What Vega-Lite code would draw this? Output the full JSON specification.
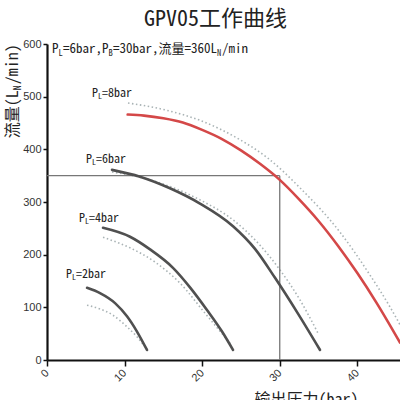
{
  "$schema": "https://vega.github.io/schema/vega-lite/v6.json",
  "width": 353,
  "height": 316,
  "autosize": {"type": "none"},
  "padding": {"left": 47, "top": 44, "right": 0, "bottom": 40},
  "background": "white",
  "title": {"text": "GPV05工作曲线", "font": "Noto Sans Mono CJK SC, Noto Sans CJK SC, DejaVu Sans Mono", "fontSize": 22, "fontWeight": "normal", "color": "#222", "anchor": "middle", "dx": -8, "offset": 7},
  "config": {"view": {"stroke": null}},
  "datasets": {
    "curves": [
      {"s": "8bar", "k": "fit", "x": 10.4, "y": 466},
      {"s": "8bar", "k": "fit", "x": 12.5, "y": 464},
      {"s": "8bar", "k": "fit", "x": 15, "y": 459},
      {"s": "8bar", "k": "fit", "x": 17.5, "y": 451},
      {"s": "8bar", "k": "fit", "x": 20, "y": 437},
      {"s": "8bar", "k": "fit", "x": 22.5, "y": 420},
      {"s": "8bar", "k": "fit", "x": 25, "y": 398},
      {"s": "8bar", "k": "fit", "x": 27.5, "y": 372},
      {"s": "8bar", "k": "fit", "x": 30, "y": 342},
      {"s": "8bar", "k": "fit", "x": 32.5, "y": 305},
      {"s": "8bar", "k": "fit", "x": 35, "y": 264},
      {"s": "8bar", "k": "fit", "x": 37.5, "y": 217},
      {"s": "8bar", "k": "fit", "x": 40, "y": 165},
      {"s": "8bar", "k": "fit", "x": 42.5, "y": 108},
      {"s": "8bar", "k": "fit", "x": 45.5, "y": 33},
      {"s": "8bar", "k": "test", "x": 10.44, "y": 488},
      {"s": "8bar", "k": "test", "x": 15.47, "y": 474},
      {"s": "8bar", "k": "test", "x": 19.72, "y": 455},
      {"s": "8bar", "k": "test", "x": 24.9, "y": 418},
      {"s": "8bar", "k": "test", "x": 28.4, "y": 384},
      {"s": "8bar", "k": "test", "x": 32.6, "y": 327},
      {"s": "8bar", "k": "test", "x": 37.8, "y": 242},
      {"s": "8bar", "k": "test", "x": 41.6, "y": 162},
      {"s": "8bar", "k": "test", "x": 44.2, "y": 101},
      {"s": "8bar", "k": "test", "x": 45.5, "y": 67},
      {"s": "6bar", "k": "fit", "x": 8.38, "y": 361},
      {"s": "6bar", "k": "fit", "x": 11.99, "y": 348},
      {"s": "6bar", "k": "fit", "x": 15.85, "y": 326},
      {"s": "6bar", "k": "fit", "x": 19.72, "y": 297},
      {"s": "6bar", "k": "fit", "x": 23.98, "y": 254},
      {"s": "6bar", "k": "fit", "x": 26.81, "y": 211},
      {"s": "6bar", "k": "fit", "x": 29.39, "y": 156},
      {"s": "6bar", "k": "fit", "x": 32.35, "y": 88},
      {"s": "6bar", "k": "fit", "x": 35.19, "y": 19},
      {"s": "6bar", "k": "test", "x": 8.38, "y": 357},
      {"s": "6bar", "k": "test", "x": 13.28, "y": 342},
      {"s": "6bar", "k": "test", "x": 19.72, "y": 304},
      {"s": "6bar", "k": "test", "x": 23.98, "y": 266},
      {"s": "6bar", "k": "test", "x": 27.45, "y": 218},
      {"s": "6bar", "k": "test", "x": 30.03, "y": 171},
      {"s": "6bar", "k": "test", "x": 32.61, "y": 114},
      {"s": "6bar", "k": "test", "x": 34.93, "y": 51},
      {"s": "4bar", "k": "fit", "x": 7.22, "y": 251},
      {"s": "4bar", "k": "fit", "x": 10.7, "y": 234},
      {"s": "4bar", "k": "fit", "x": 13.28, "y": 210},
      {"s": "4bar", "k": "fit", "x": 16.24, "y": 175},
      {"s": "4bar", "k": "fit", "x": 18.43, "y": 138},
      {"s": "4bar", "k": "fit", "x": 20.62, "y": 95},
      {"s": "4bar", "k": "fit", "x": 22.56, "y": 54},
      {"s": "4bar", "k": "fit", "x": 23.98, "y": 19},
      {"s": "4bar", "k": "test", "x": 7.22, "y": 233},
      {"s": "4bar", "k": "test", "x": 10.7, "y": 213},
      {"s": "4bar", "k": "test", "x": 13.92, "y": 186},
      {"s": "4bar", "k": "test", "x": 17.14, "y": 146},
      {"s": "4bar", "k": "test", "x": 20.36, "y": 89},
      {"s": "4bar", "k": "test", "x": 23.59, "y": 32},
      {"s": "2bar", "k": "fit", "x": 5.16, "y": 137},
      {"s": "2bar", "k": "fit", "x": 6.83, "y": 127},
      {"s": "2bar", "k": "fit", "x": 8.77, "y": 108},
      {"s": "2bar", "k": "fit", "x": 10.31, "y": 83},
      {"s": "2bar", "k": "fit", "x": 11.6, "y": 54},
      {"s": "2bar", "k": "fit", "x": 12.89, "y": 19},
      {"s": "2bar", "k": "test", "x": 5.16, "y": 104},
      {"s": "2bar", "k": "test", "x": 6.83, "y": 97},
      {"s": "2bar", "k": "test", "x": 8.51, "y": 85},
      {"s": "2bar", "k": "test", "x": 10.31, "y": 63},
      {"s": "2bar", "k": "test", "x": 11.6, "y": 44},
      {"s": "2bar", "k": "test", "x": 12.63, "y": 25}
    ],
    "ref": [{"x": 30, "y": 350, "x0": 0, "y0": 0}],
    "labels": [
      {"s": "=8bar", "x": 5.8, "y": 507},
      {"s": "=6bar", "x": 5.03, "y": 382},
      {"s": "=4bar", "x": 4.12, "y": 270},
      {"s": "=2bar", "x": 2.45, "y": 163}
    ],
    "note": [{"x": 0.64, "y": 590, "a": "P", "b": "L", "c": "=6bar,P", "d": "B", "e": "=30bar,流量=360L", "f": "N", "g": "/min"}],
    "ytitle": [{"x": -4.38, "y": 421, "a": "流量(L", "b": "N", "c": "/min)"}]
  },
  "layer": [
    {
      "data": {"name": "curves"},
      "transform": [{"filter": "datum.k == 'test'"}],
      "mark": {"type": "line", "color": "#9aa6a8", "strokeWidth": 1.6, "strokeDash": [1.5, 2.5], "opacity": 0.85, "interpolate": "monotone"},
      "encoding": {
        "x": {"field": "x", "type": "quantitative", "scale": {"domain": [0, 45.5], "nice": false, "zero": false},
          "axis": {"values": [0, 10, 20, 30, 40], "title": "输出压力(bar)", "titleFont": "Noto Sans Mono CJK SC, Noto Sans CJK SC", "titleFontSize": 16, "titleFontWeight": "normal", "titleColor": "#222", "titleX": 259, "titleY": 31, "titleAlign": "center", "titleBaseline": "top", "labelAngle": -45, "labelAlign": "right", "labelBaseline": "middle", "labelPadding": 5, "labelFont": "Liberation Sans", "labelFontSize": 11, "labelColor": "#333", "tickSize": 6, "tickWidth": 1.5, "tickColor": "#111", "domainColor": "#111", "domainWidth": 2.2, "grid": false}},
        "y": {"field": "y", "type": "quantitative", "scale": {"domain": [0, 600], "nice": false},
          "axis": {"values": [0, 100, 200, 300, 400, 500, 600], "title": null, "labelFont": "Liberation Sans", "labelFontSize": 11, "labelColor": "#333", "tickSize": 4, "tickWidth": 1.5, "tickColor": "#111", "labelPadding": 2, "domainColor": "#111", "domainWidth": 2.2, "grid": false}},
        "detail": {"field": "s", "type": "nominal"}
      }
    },
    {
      "data": {"name": "ref"},
      "mark": {"type": "rule", "color": "#777", "strokeWidth": 1.3},
      "encoding": {
        "x": {"field": "x0", "type": "quantitative"},
        "x2": {"field": "x"},
        "y": {"field": "y", "type": "quantitative"}
      }
    },
    {
      "data": {"name": "ref"},
      "mark": {"type": "rule", "color": "#777", "strokeWidth": 1.3},
      "encoding": {
        "x": {"field": "x", "type": "quantitative"},
        "y": {"field": "y0", "type": "quantitative"},
        "y2": {"field": "y"}
      }
    },
    {
      "data": {"name": "curves"},
      "transform": [{"filter": "datum.k == 'fit'"}],
      "mark": {"type": "line", "strokeWidth": 2.6, "interpolate": "monotone", "strokeCap": "round"},
      "encoding": {
        "x": {"field": "x", "type": "quantitative"},
        "y": {"field": "y", "type": "quantitative"},
        "color": {"field": "s", "type": "nominal", "scale": {"domain": ["8bar", "6bar", "4bar", "2bar"], "range": ["#d44848", "#4f4f4f", "#505050", "#505050"]}, "legend": null}
      }
    },
    {
      "data": {"name": "labels"},
      "mark": {"type": "text", "align": "left", "baseline": "middle", "font": "Noto Sans Mono CJK SC, DejaVu Sans Mono", "fontSize": 12, "color": "#222", "text": "P"},
      "encoding": {
        "x": {"field": "x", "type": "quantitative"},
        "y": {"field": "y", "type": "quantitative"}
      }
    },
    {
      "data": {"name": "labels"},
      "mark": {"type": "text", "align": "left", "baseline": "middle", "font": "Noto Sans Mono CJK SC, DejaVu Sans Mono", "fontSize": 8, "color": "#222", "dx": 6, "dy": 4, "text": "L"},
      "encoding": {
        "x": {"field": "x", "type": "quantitative"},
        "y": {"field": "y", "type": "quantitative"}
      }
    },
    {
      "data": {"name": "labels"},
      "mark": {"type": "text", "align": "left", "baseline": "middle", "font": "Noto Sans Mono CJK SC, DejaVu Sans Mono", "fontSize": 12, "color": "#222", "dx": 10},
      "encoding": {
        "x": {"field": "x", "type": "quantitative"},
        "y": {"field": "y", "type": "quantitative"},
        "text": {"field": "s", "type": "nominal"}
      }
    },
    {
      "data": {"name": "note"},
      "mark": {"type": "text", "align": "left", "baseline": "middle", "font": "Noto Sans Mono CJK SC, DejaVu Sans Mono", "fontSize": 13, "color": "#222"},
      "encoding": {"x": {"field": "x", "type": "quantitative"}, "y": {"field": "y", "type": "quantitative"}, "text": {"field": "a", "type": "nominal"}}
    },
    {
      "data": {"name": "note"},
      "mark": {"type": "text", "align": "left", "baseline": "middle", "font": "Noto Sans Mono CJK SC, DejaVu Sans Mono", "fontSize": 8.5, "color": "#222", "dx": 6.5, "dy": 4},
      "encoding": {"x": {"field": "x", "type": "quantitative"}, "y": {"field": "y", "type": "quantitative"}, "text": {"field": "b", "type": "nominal"}}
    },
    {
      "data": {"name": "note"},
      "mark": {"type": "text", "align": "left", "baseline": "middle", "font": "Noto Sans Mono CJK SC, DejaVu Sans Mono", "fontSize": 13, "color": "#222", "dx": 11},
      "encoding": {"x": {"field": "x", "type": "quantitative"}, "y": {"field": "y", "type": "quantitative"}, "text": {"field": "c", "type": "nominal"}}
    },
    {
      "data": {"name": "note"},
      "mark": {"type": "text", "align": "left", "baseline": "middle", "font": "Noto Sans Mono CJK SC, DejaVu Sans Mono", "fontSize": 8.5, "color": "#222", "dx": 56.5, "dy": 4},
      "encoding": {"x": {"field": "x", "type": "quantitative"}, "y": {"field": "y", "type": "quantitative"}, "text": {"field": "d", "type": "nominal"}}
    },
    {
      "data": {"name": "note"},
      "mark": {"type": "text", "align": "left", "baseline": "middle", "font": "Noto Sans Mono CJK SC, DejaVu Sans Mono", "fontSize": 13, "color": "#222", "dx": 61},
      "encoding": {"x": {"field": "x", "type": "quantitative"}, "y": {"field": "y", "type": "quantitative"}, "text": {"field": "e", "type": "nominal"}}
    },
    {
      "data": {"name": "note"},
      "mark": {"type": "text", "align": "left", "baseline": "middle", "font": "Noto Sans Mono CJK SC, DejaVu Sans Mono", "fontSize": 8.5, "color": "#222", "dx": 165, "dy": 4},
      "encoding": {"x": {"field": "x", "type": "quantitative"}, "y": {"field": "y", "type": "quantitative"}, "text": {"field": "f", "type": "nominal"}}
    },
    {
      "data": {"name": "note"},
      "mark": {"type": "text", "align": "left", "baseline": "middle", "font": "Noto Sans Mono CJK SC, DejaVu Sans Mono", "fontSize": 13, "color": "#222", "dx": 170},
      "encoding": {"x": {"field": "x", "type": "quantitative"}, "y": {"field": "y", "type": "quantitative"}, "text": {"field": "g", "type": "nominal"}}
    },
    {
      "data": {"name": "ytitle"},
      "mark": {"type": "text", "align": "left", "baseline": "middle", "angle": 270, "font": "Noto Sans Mono CJK SC, Noto Sans CJK SC", "fontSize": 16, "color": "#222"},
      "encoding": {"x": {"field": "x", "type": "quantitative"}, "y": {"field": "y", "type": "quantitative"}, "text": {"field": "a", "type": "nominal"}}
    },
    {
      "data": {"name": "ytitle"},
      "mark": {"type": "text", "align": "left", "baseline": "middle", "angle": 270, "font": "Noto Sans Mono CJK SC, Noto Sans CJK SC", "fontSize": 10, "color": "#222", "dx": 48, "dy": 5},
      "encoding": {"x": {"field": "x", "type": "quantitative"}, "y": {"field": "y", "type": "quantitative"}, "text": {"field": "b", "type": "nominal"}}
    },
    {
      "data": {"name": "ytitle"},
      "mark": {"type": "text", "align": "left", "baseline": "middle", "angle": 270, "font": "Noto Sans Mono CJK SC, Noto Sans CJK SC", "fontSize": 16, "color": "#222", "dx": 54},
      "encoding": {"x": {"field": "x", "type": "quantitative"}, "y": {"field": "y", "type": "quantitative"}, "text": {"field": "c", "type": "nominal"}}
    }
  ]
}
